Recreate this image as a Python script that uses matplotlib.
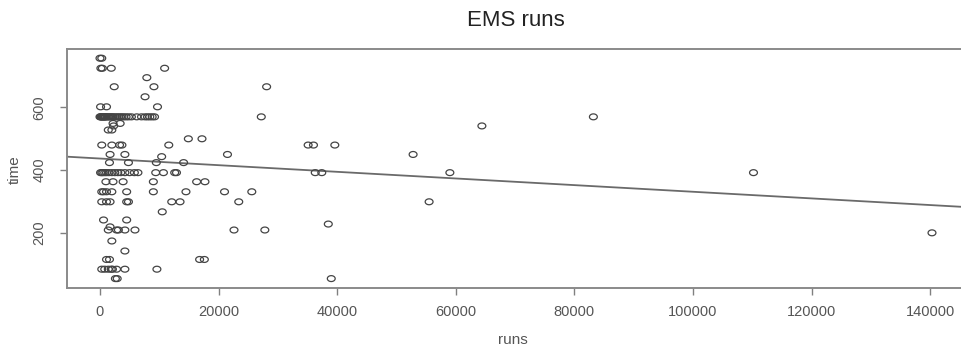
"""
EMS runs: scatter of run count vs time with a fitted line (R base-plot look)
"""

import numpy as np
import matplotlib
matplotlib.use('Agg')
import matplotlib.pyplot as plt
from matplotlib.path import Path

plt.rcParams['font.family'] = ['Liberation Sans', 'DejaVu Sans']

# ── data, grouped by time level ──────────────────────────────────
rows = [
    (757, [0, 300]),
    (725, [150, 400, 1900, 10900]),
    (695, [7900]),
    (666, [2400, 9100, 28100]),
    (634, [7600]),
    (602, [100, 1100, 9700]),
    (570, [0, 100, 200, 300, 400, 500, 600, 700, 800, 900, 1000, 1200,
           1400, 1600, 1800, 2000, 2200, 2500, 2800, 3100, 3400, 3700,
           4000, 4400, 4800, 5300, 6200, 7000, 7600, 8000, 8400, 8800,
           9200, 27200, 83200]),
    (549, [2200, 3400]),
    (541, [2300, 64400]),
    (528, [1400, 2000]),
    (500, [14900, 17200]),
    (480, [300, 2000, 3300, 3700, 11600, 35100, 36000, 39600]),
    (450, [1700, 4200, 21500, 52800]),
    (443, [10400]),
    (424, [1600, 4800, 9500, 14100]),
    (392, [100, 300, 500, 800, 1100, 1500, 2000, 2500, 3000, 3500, 4200,
           5000, 5800, 6400, 9400, 10700, 12600, 12900, 36300, 37400,
           59000, 110200]),
    (363, [1000, 2200, 3900, 9000, 16300, 17700]),
    (331, [300, 600, 1100, 2000, 4500, 9000, 14500, 21000, 25600]),
    (299, [300, 1100, 1700, 4500, 4800, 12100, 13500, 23400, 55500]),
    (267, [10500]),
    (241, [600, 4500]),
    (228, [38500]),
    (219, [1700]),
    (209, [1400, 2800, 3100, 4200, 5900, 22600, 27800]),
    (200, [140300]),
    (174, [2000]),
    (142, [4200]),
    (115, [1100, 1600, 16800, 17600]),
    (84, [300, 800, 1400, 1900, 2100, 2800, 4200, 9600]),
    (54, [2600, 2900, 39000]),
]

runs = [x for t, xs in rows for x in xs]
time = [t for t, xs in rows for x in xs]

# fitted line coefficients (abline)
intercept = 437
slope = -0.00106

x_ticks = [0, 20000, 40000, 60000, 80000, 100000, 120000, 140000]
y_ticks = [200, 400, 600]

# ── figure ───────────────────────────────────────────────────────
fig = plt.figure(figsize=(9.61, 3.56), dpi=100)
ax = fig.add_axes([0.0697, 0.191, 0.9355, 0.671])

# slightly flattened open circle, like the stretched R pch=1
th = np.linspace(0, 2 * np.pi, 40)
ell = Path(np.column_stack([np.cos(th), 0.75 * np.sin(th)]), closed=True)

ax.scatter(runs, time, marker=ell, s=32, facecolors='none',
           edgecolors='#444444', linewidths=0.9, zorder=3)

ax.axline((0, intercept), slope=slope, color='#6a6a6a', linewidth=1.3, zorder=2)

ax.set_xlim(-5565, 146035)
ax.set_ylim(24, 786)

ax.set_xticks(x_ticks)
ax.set_xticklabels([str(v) for v in x_ticks])
ax.set_yticks(y_ticks)
ax.set_yticklabels([str(v) for v in y_ticks], rotation=90, va='center')

ax.tick_params(direction='out', length=5, width=1, color='#808080',
               labelcolor='#555555', labelsize=10.5)
ax.tick_params(axis='x', pad=7)
ax.tick_params(axis='y', pad=10)

for sp in ax.spines.values():
    sp.set_color('#8a8a8a')
    sp.set_linewidth(1.4)

fig.text(516 / 961, 1 - 20 / 356, 'EMS runs', ha='center', va='center',
         fontsize=16, color='#222222')
fig.text(513 / 961, 1 - 340 / 356, 'runs', ha='center', va='center',
         fontsize=11, color='#555555')
fig.text(15 / 961, 1 - 170 / 356, 'time', ha='center', va='center',
         rotation=90, fontsize=11, color='#555555')

fig.savefig('out.png', dpi=100)
plt.close(fig)
